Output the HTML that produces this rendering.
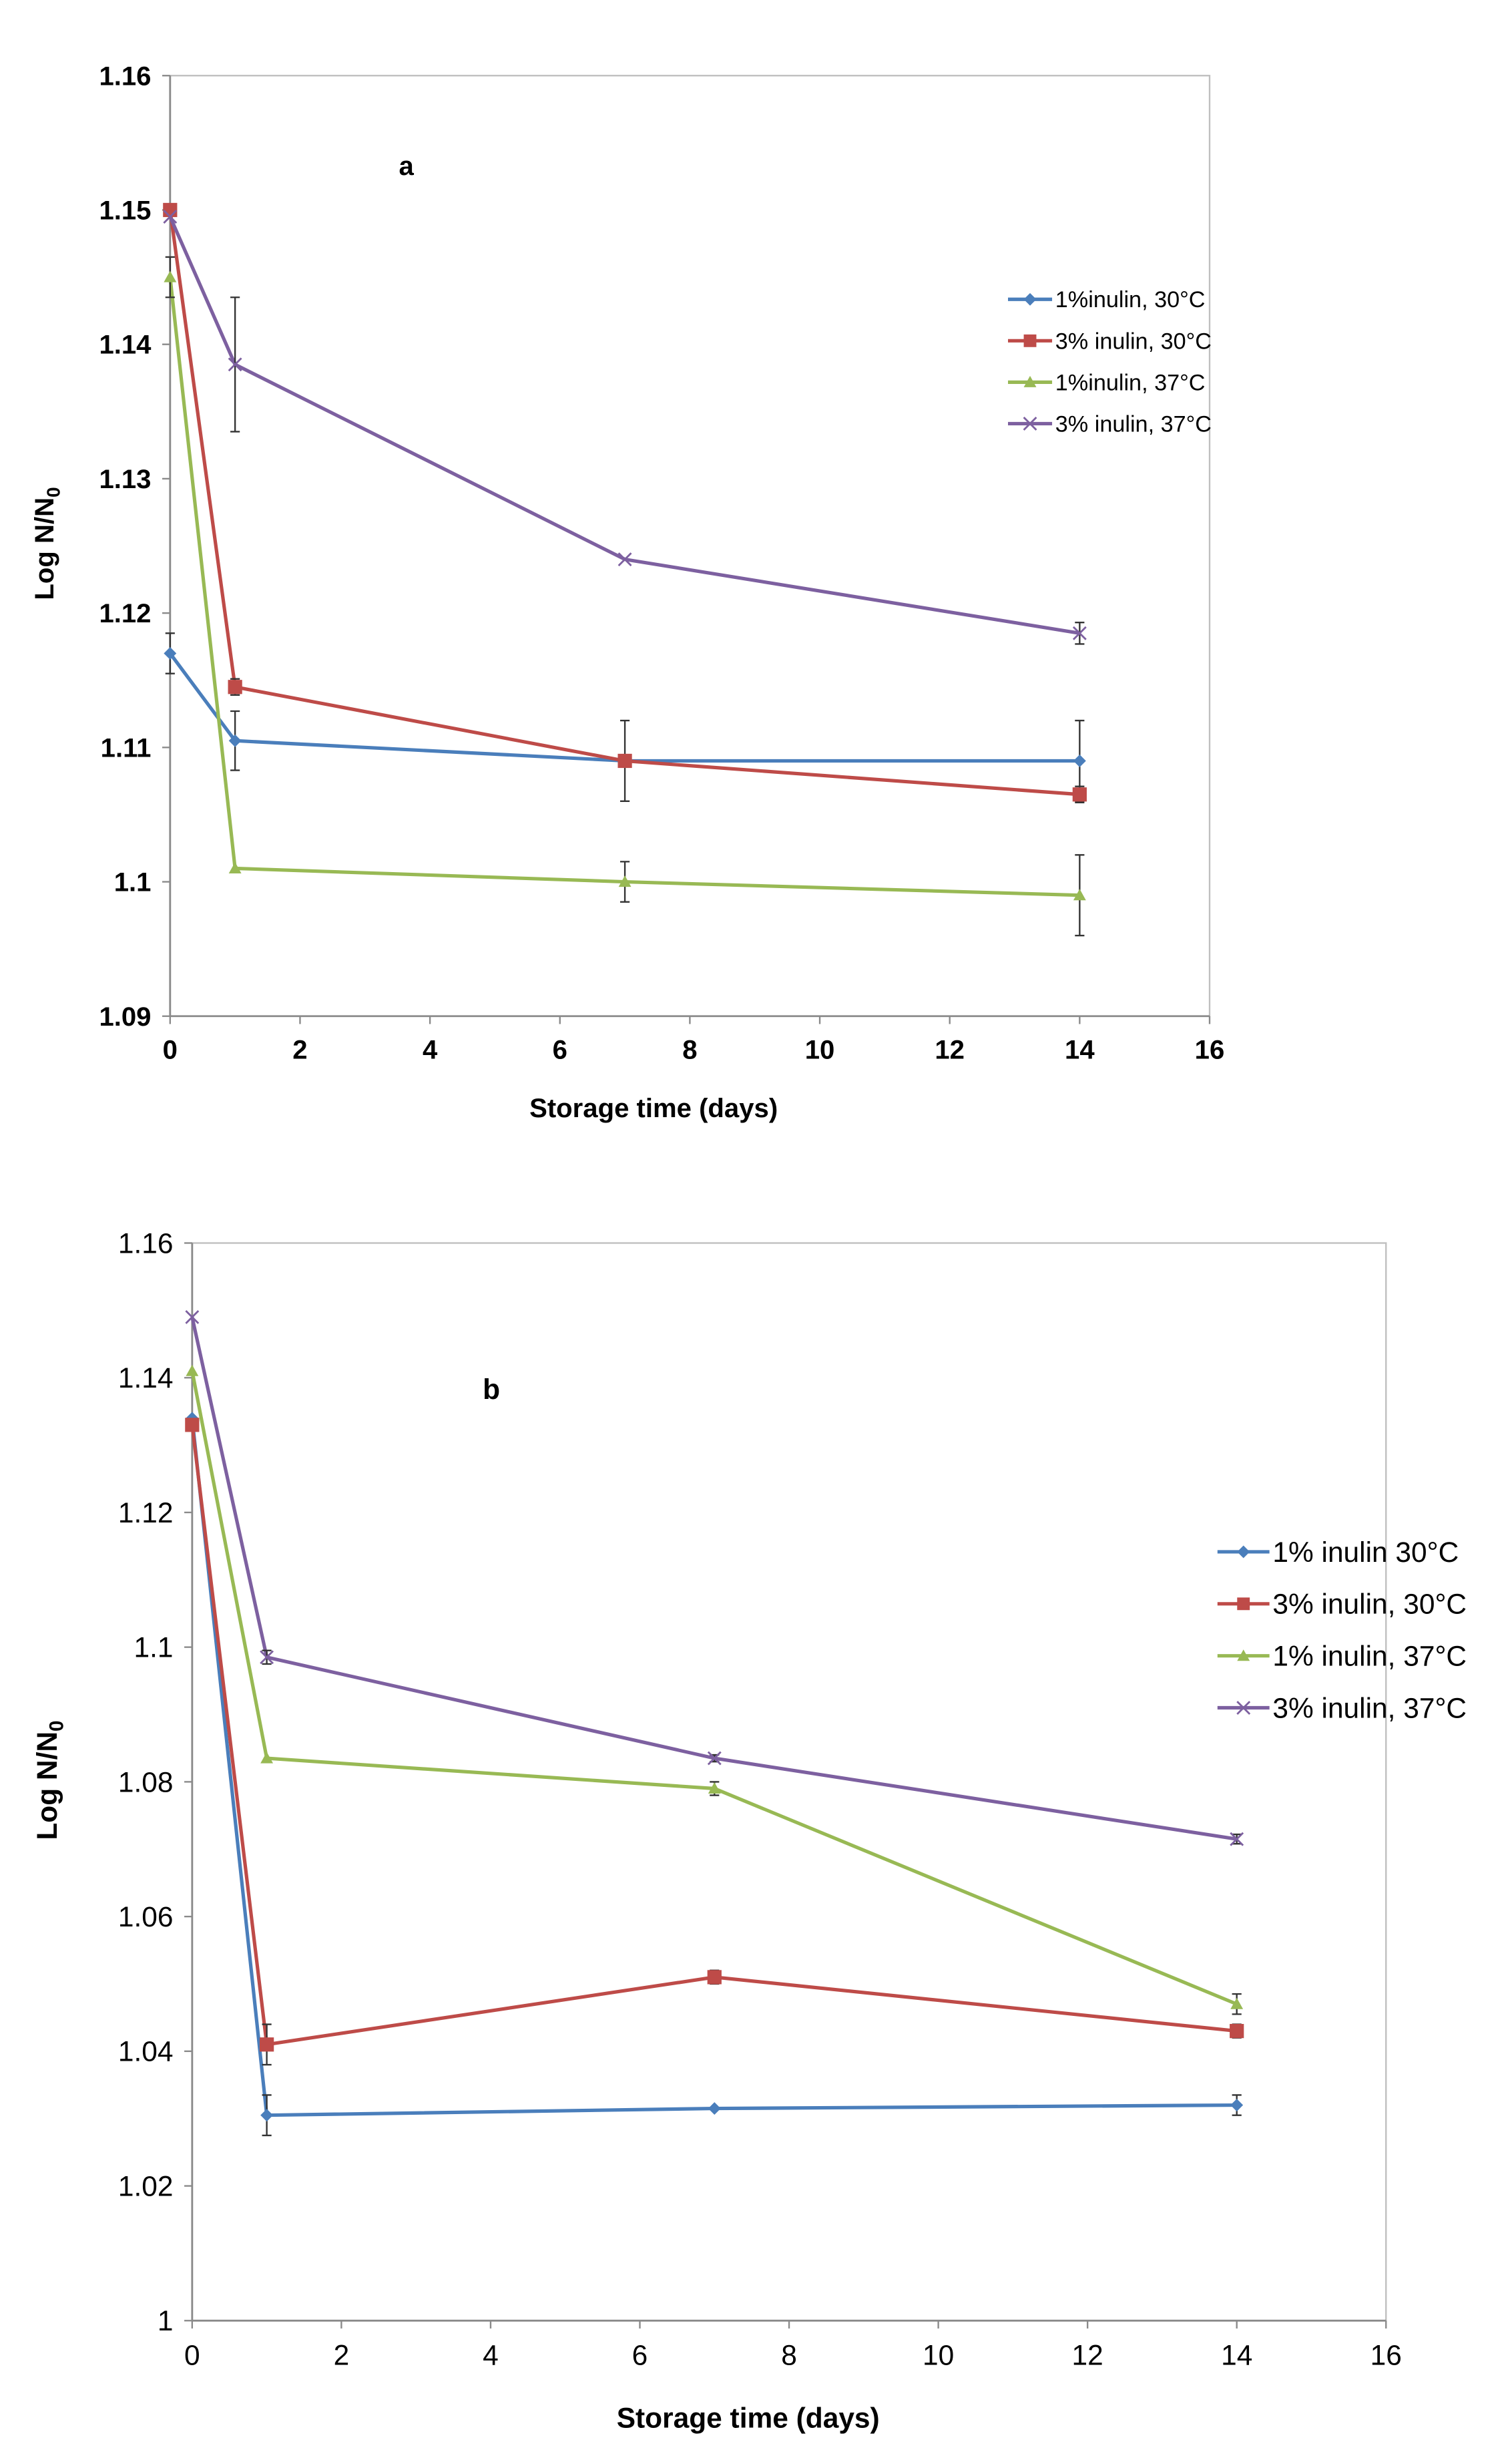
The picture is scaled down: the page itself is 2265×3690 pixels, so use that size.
<!DOCTYPE html>
<html><head><meta charset="utf-8"><style>
html,body{margin:0;padding:0;background:#fff;}
svg{display:block;}
text{font-family:"Liberation Sans",Arial,sans-serif;fill:#000;}
</style></head><body>
<svg id="root" width="2265" height="3690" viewBox="0 0 960 1564" preserveAspectRatio="none"></svg>
<script>
const days = [0, 1, 7, 14];
const seriesNames = ["1%inulin, 30°C", "3% inulin, 30°C", "1%inulin, 37°C", "3% inulin, 37°C"];
const seriesNamesB = ["1% inulin 30°C", "3% inulin, 30°C", "1% inulin, 37°C", "3% inulin, 37°C"];
const aBlue = [1.117, 1.1105, 1.109, 1.109];
const aRed = [1.150, 1.1145, 1.109, 1.1065];
const aGreen = [1.145, 1.101, 1.100, 1.099];
const aPurple = [1.1495, 1.1385, 1.124, 1.1185];
const aBlueErr = [0.0015, 0.0022, 0, 0.003];
const aRedErr = [0, 0.0006, 0.003, 0.0006];
const aGreenErr = [0.0015, 0, 0.0015, 0.003];
const aPurpleErr = [0, 0.005, 0, 0.0008];
const bBlue = [1.134, 1.0305, 1.0315, 1.032];
const bRed = [1.133, 1.041, 1.051, 1.043];
const bGreen = [1.141, 1.0835, 1.079, 1.047];
const bPurple = [1.149, 1.0985, 1.0835, 1.0715];
const bBlueErr = [0, 0.003, 0, 0.0015];
const bRedErr = [0, 0.003, 0.001, 0.001];
const bGreenErr = [0, 0, 0.001, 0.0015];
const bPurpleErr = [0, 0.001, 0.0005, 0.0007];
const xTicks = [0, 2, 4, 6, 8, 10, 12, 14, 16];
const aYTicks = [1.09, 1.10, 1.11, 1.12, 1.13, 1.14, 1.15, 1.16];
const aYLabels = ["1.09", "1.1", "1.11", "1.12", "1.13", "1.14", "1.15", "1.16"];
const bYTicks = [1.00, 1.02, 1.04, 1.06, 1.08, 1.10, 1.12, 1.14, 1.16];
const bYLabels = ["1", "1.02", "1.04", "1.06", "1.08", "1.1", "1.12", "1.14", "1.16"];

const colors = ["#4a7ebb", "#be4b48", "#98b954", "#7d60a0"];
const markers = ["diamond", "square", "triangle", "x"];
const NS = "http://www.w3.org/2000/svg";
const root = document.getElementById("root");
function mk(tag, attrs, parent) {
  const e = document.createElementNS(NS, tag);
  for (const k in attrs) e.setAttribute(k, attrs[k]);
  (parent || root).appendChild(e);
  return e;
}
function marker(g, type, cx, cy, c, s) {
  let m;
  if (type === "diamond") m = mk("polygon", {points: `${cx},${cy-s} ${cx+s},${cy} ${cx},${cy+s} ${cx-s},${cy}`, fill: c}, g);
  else if (type === "square") m = mk("rect", {x: cx-s, y: cy-s, width: 2*s, height: 2*s, fill: c}, g);
  else if (type === "triangle") m = mk("polygon", {points: `${cx},${cy-s} ${cx+s},${cy+s*0.8} ${cx-s},${cy+s*0.8}`, fill: c}, g);
  else { m = mk("path", {d: `M${cx-s},${cy-s}L${cx+s},${cy+s}M${cx-s},${cy+s}L${cx+s},${cy-s}`, stroke: c, "stroke-width": 1.2, fill: "none"}, g); }
  return m;
}
function chart(cfg) {
  const {L, R, T, B, yMin, yMax, yTicks, yLabels, series, errs, names, letter, letterPos, legX, legY, legStep, fs, legFs, id, bold} = cfg;
  const g = mk("g", {});
  
  
  const xs = d => L + (d - 0) / 16 * (R - L);
  const ys = v => B - (v - yMin) / (yMax - yMin) * (B - T);
  const frame = mk("rect", {x: L, y: T, width: R - L, height: B - T, fill: "none", stroke: "#bfbfbf", "stroke-width": 1}, g);
  
  
  const ya = mk("line", {x1: L, y1: T, x2: L, y2: B, stroke: "#8a8a8a", "stroke-width": 1.2}, g);
  
  
  const xa = mk("line", {x1: L, y1: B, x2: R, y2: B, stroke: "#8a8a8a", "stroke-width": 1.2}, g);
  
  
  yTicks.forEach((v, i) => {
    mk("line", {x1: L - 5, y1: ys(v), x2: L, y2: ys(v), stroke: "#8a8a8a"}, g);
    const t = mk("text", {x: L - 12, y: ys(v) + fs * 0.35, "text-anchor": "end", "font-size": fs, "font-weight": bold ? "bold" : "normal"}, g);
    t.textContent = yLabels[i];
    
    
  });
  xTicks.forEach(v => {
    mk("line", {x1: xs(v), y1: B, x2: xs(v), y2: B + 5, stroke: "#8a8a8a"}, g);
    const t = mk("text", {x: xs(v), y: B + 27 + (fs - 17), "text-anchor": "middle", "font-size": fs, "font-weight": bold ? "bold" : "normal"}, g);
    t.textContent = String(v);
    
    
  });
  const xt = mk("text", {x: cfg.xTitleX, y: cfg.xTitleY, "text-anchor": "middle", "font-size": fs, "font-weight": "bold"}, g);
  xt.textContent = "Storage time (days)";
  
  
  const yt = mk("text", {x: 0, y: 0, "text-anchor": "middle", "font-size": fs, "font-weight": "bold", transform: `translate(${cfg.yTitleX},${cfg.yTitleY}) rotate(-90)`}, g);
  yt.innerHTML = 'Log N/N<tspan font-size="' + (fs * 0.7) + '" dy="4">0</tspan>';
  
  
  const lt = mk("text", {x: letterPos[0], y: letterPos[1], "text-anchor": "middle", "font-size": fs, "font-weight": "bold"}, g);
  lt.textContent = letter;
  
  
  series.forEach((vals, si) => {
    const c = colors[si];
    const sg = mk("g", {}, g);
    
    
    const pts = vals.map((v, i) => `${xs(days[i])},${ys(v)}`).join(" ");
    const pl = mk("polyline", {points: pts, fill: "none", stroke: c, "stroke-width": 2.2}, sg);
    
    
    vals.forEach((v, i) => {
      const e = errs[si][i];
      if (e > 0) {
        const x = xs(days[i]), y1 = ys(v + e), y2 = ys(v - e);
        const eb = mk("path", {d: `M${x},${y1}L${x},${y2}M${x-3},${y1}L${x+3},${y1}M${x-3},${y2}L${x+3},${y2}`, stroke: "#333", "stroke-width": 1, fill: "none"}, sg);
        
        
      }
      const m = marker(sg, markers[si], xs(days[i]), ys(v), c, si === 1 ? 4.5 : 4);
      
      
    });
  });
  names.forEach((n, i) => {
    const c = colors[i];
    const lg = mk("g", {}, g);
    
    
    const y = legY + i * legStep;
    mk("line", {x1: legX, y1: y, x2: legX + cfg.legLen, y2: y, stroke: c, "stroke-width": 2.2}, lg);
    marker(lg, markers[i], legX + cfg.legLen / 2, y, c, 4);
    const t = mk("text", {x: legX + cfg.legLen + 2, y: y + legFs * 0.35, "font-size": legFs}, lg);
    t.textContent = n;
  });
}
chart({L: 108, R: 768, T: 48, B: 645, yMin: 1.09, yMax: 1.16, yTicks: aYTicks, yLabels: aYLabels,
  series: [aBlue, aRed, aGreen, aPurple], errs: [aBlueErr, aRedErr, aGreenErr, aPurpleErr], names: seriesNames,
  letter: "a", letterPos: [258, 111], legX: 640, legY: 190, legStep: 26.3, legLen: 28, fs: 17, legFs: 14.5,
  xTitleX: 415, xTitleY: 709, yTitleX: 34, yTitleY: 345, id: "chart-a", bold: true});
chart({L: 122, R: 880, T: 789, B: 1473, yMin: 1.00, yMax: 1.16, yTicks: bYTicks, yLabels: bYLabels,
  series: [bBlue, bRed, bGreen, bPurple], errs: [bBlueErr, bRedErr, bGreenErr, bPurpleErr], names: seriesNamesB,
  letter: "b", letterPos: [312, 888], legX: 773, legY: 985, legStep: 33, legLen: 33, fs: 18, legFs: 18,
  xTitleX: 475, xTitleY: 1541, yTitleX: 36, yTitleY: 1130, id: "chart-b", bold: false});
</script>
</body></html>
